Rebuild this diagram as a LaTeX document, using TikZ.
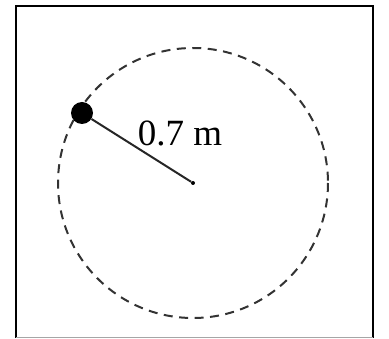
\documentclass[tikz,border=0pt]{standalone}
\usepackage{fontspec}
\setmainfont{Liberation Serif}
\begin{document}
\begin{tikzpicture}[
    x=1pt, y=-1pt,
    every node/.style={font=\fontsize{37}{42}\selectfont},
    orbit/.style={dashed, dash pattern=on 9pt off 6.5pt, line width=2pt, black!80},
    ball/.style={circle, fill=black, inner sep=0pt, minimum size=22pt},
    pivot/.style={circle, fill=black, inner sep=0pt, minimum size=4pt},
    string/.style={line width=2pt, black!85}
]
\useasboundingbox (0,0) rectangle (389,339);

% Rahmen
\draw[line width=2.2pt] (16,338) -- (16,6) -- (373,6) -- (373,338);
\draw[line width=1pt, black!35] (16,338) -- (373,338);

% Kreisbahn
\coordinate (C) at (193,183);
\draw[orbit] (C) circle[radius=135];

% Masse und Faden
\node[pivot] (P) at (C) {};
\node[ball] (M) at (82,113) {};
\draw[string] (M) -- (P);

% Radius
\node (R) at (180,133) {0.7 m};

\end{tikzpicture}
\end{document}
